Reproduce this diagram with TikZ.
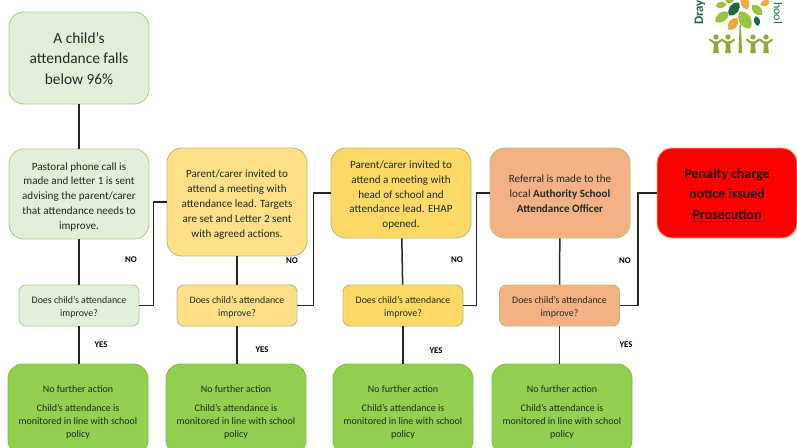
\documentclass[tikz,border=0pt]{standalone}
\usepackage{fontspec}
\setmainfont{Carlito}
\definecolor{paleG}{HTML}{E2F0D9}
\definecolor{paleB}{HTML}{A9D18E}
\definecolor{softY}{HTML}{FFE088}
\definecolor{midY}{HTML}{FFD966}
\definecolor{salmon}{HTML}{F4B183}
\definecolor{oliveB}{HTML}{B4BE72}
\definecolor{endG}{HTML}{92D050}
\definecolor{lnk}{HTML}{262626}
\definecolor{txt}{HTML}{1E2A24}
\definecolor{treeD}{HTML}{1A6B45}
\definecolor{treeL}{HTML}{9CC33F}
\definecolor{treeO}{HTML}{F2A93B}
\definecolor{kid}{HTML}{8FA83A}
\newcommand{\lowtop}[1]{\rule{0pt}{#1}}
\newcommand{\leafat}[5]{\fill[#5,shift={(#1,#2)},rotate=#3,x=#4 pt,y=#4 pt] (0,-1) .. controls (.8,-.55) and (.8,.55) .. (0,1) .. controls (-.8,.55) and (-.8,-.55) .. (0,-1);}
\newcommand{\kidat}[1]{\fill[kid,shift={(#1,37)}] (0,0) circle (2.6)
 (-6.5,1.5) -- (-1.6,4.4) -- (1.6,4.4) -- (6.5,1.5) -- (7,3.2) -- (2,7) -- (2.8,16) -- (-2.8,16) -- (-2,7) -- (-7,3.2) -- cycle;}
\tikzset{
 x=1pt,y=-1pt,
 box/.style={draw,line width=.9pt,align=center,text=txt,inner sep=0pt,rounded corners=15pt,minimum width=140pt,font=\fontsize{11.1}{14.8}\selectfont},
 ask/.style={box,minimum width=120pt,minimum height=41pt,rounded corners=7pt,font=\fontsize{9.9}{12.8}\selectfont},
 stop/.style={box,fill=endG,draw=endG!90!black,minimum height=91pt,font=\fontsize{10}{12.9}\selectfont},
 big/.style={font=\fontsize{15.4}{20.4}\selectfont},
 tag/.style={font=\fontsize{8.8}{10}\selectfont\bfseries,text=black,inner sep=0pt},
 link/.style={draw=lnk,line width=1.5pt},
}
\begin{document}
\begin{tikzpicture}
\useasboundingbox (0,0) rectangle (797,447);
\clip (0,0) rectangle (797,447);
\fill[white] (0,0) rectangle (797,447);
\node[box,big,fill=paleG,draw=paleB,minimum height=92pt] (start) at (79,58) {\lowtop{12pt}A child’s\\attendance falls\\below 96\%};
\node[box,fill=paleG,draw=paleB,minimum height=90pt] (b1) at (79,194) {\lowtop{13pt}Pastoral phone call is\\made and letter 1 is sent\\advising the parent/carer\\that attendance needs to\\improve.};
\node[box,fill=softY,draw=oliveB,minimum height=108pt] (b2) at (237,202) {\lowtop{13pt}Parent/carer invited to\\attend a meeting with\\attendance lead. Targets\\are set and Letter 2 sent\\with agreed actions.};
\node[box,fill=midY,draw=oliveB,minimum height=90pt] (b3) at (401,193) {\lowtop{12pt}Parent/carer invited to\\attend a meeting with\\head of school and\\attendance lead. EHAP\\opened.};
\node[box,fill=salmon,draw=oliveB,minimum height=90pt] (b4) at (560,193) {\lowtop{9.5pt}Referral is made to the\\local \textbf{Authority School}\\\textbf{Attendance Officer}};
\node[box,fill=red,draw=salmon,minimum height=90pt,font=\fontsize{14}{20.5}\selectfont\bfseries,text=black!85!red] (b5) at (727,193) {\lowtop{14pt}Penalty charge\\notice issued\\\underline{Prosecution}};
\node[ask,fill=paleG,draw=paleB] (d1) at (79,305.5) {\lowtop{11pt}Does child’s attendance\\improve?};
\node[ask,fill=softY,draw=oliveB] (d2) at (237,305.5) {\lowtop{11pt}Does child’s attendance\\improve?};
\node[ask,fill=midY,draw=oliveB] (d3) at (403,305.5) {\lowtop{11pt}Does child’s attendance\\improve?};
\node[ask,fill=salmon,draw=oliveB] (d4) at (559.5,305.5) {\lowtop{11pt}Does child’s attendance\\improve?};
\node[stop] (e1) at (78,409.5) {\lowtop{13pt}No further action\\[6pt]Child’s attendance is\\monitored in line with school\\policy};
\node[stop] (e2) at (236,409.5) {\lowtop{13pt}No further action\\[6pt]Child’s attendance is\\monitored in line with school\\policy};
\node[stop] (e3) at (403,409.5) {\lowtop{13pt}No further action\\[6pt]Child’s attendance is\\monitored in line with school\\policy};
\node[stop] (e4) at (562,409.5) {\lowtop{13pt}No further action\\[6pt]Child’s attendance is\\monitored in line with school\\policy};
\draw[link] (start) -- (b1);
\draw[link] (b1) -- (d1);
\draw[link] (b2) -- (d2);
\draw[link] (b3) -- (d3);
\draw[link] (b4) -- (d4);
\draw[link] (d1) -- (d1|-e1.north);
\draw[link] (d2) -- (d2|-e2.north);
\draw[link] (d3) -- (d3|-e3.north);
\draw[link] (d4) -- (d4|-e4.north);
\draw[link] (d1.east) -- ++(14,0) |- (b2.west);
\draw[link] (d2.east) -- ++(16,0) |- (b3.west);
\draw[link] (d3.east) -- ++(13,0) |- (b4.west);
\draw[link] (d4.east) -- ++(18,0) |- (b5.west);
\node[tag] (no1) at (131,260) {NO};
\node[tag] (no2) at (292,261) {NO};
\node[tag] (no3) at (457,260) {NO};
\node[tag] (no4) at (625,261) {NO};
\node[tag] (yes1) at (101,345) {YES};
\node[tag] (yes2) at (262,350) {YES};
\node[tag] (yes3) at (436,351) {YES};
\node[tag] (yes4) at (626,345) {YES};
\node[rotate=90,anchor=west,inner sep=0pt,text=treeD,font=\fontsize{13}{13}\selectfont\bfseries] (dray) at (700,25) {Dray};
\node[rotate=-90,anchor=east,inner sep=0pt,text=treeD,font=\fontsize{12}{12}\selectfont] (hool) at (778,24) {hool};
\fill[kid] (738.6,53) -- (739.6,25) -- (741,25) -- (742,53) -- cycle;
\leafat{745}{20}{30}{10}{treeL}
\leafat{722}{17}{-55}{8}{treeL}
\leafat{733}{24}{-37}{7.5}{treeO}
\leafat{734}{9}{-37}{8}{treeD}
\leafat{745}{3}{20}{7}{treeO}
\leafat{757}{21}{15}{5}{treeD}
\leafat{757}{10}{45}{7}{treeL}
\leafat{765}{3}{-70}{5}{treeO}
\leafat{721}{5}{-80}{5.5}{treeL}
\leafat{730}{0}{-70}{5}{treeL}
\kidat{716}
\kidat{728}
\kidat{753}
\kidat{766}
\end{tikzpicture}
\end{document}
